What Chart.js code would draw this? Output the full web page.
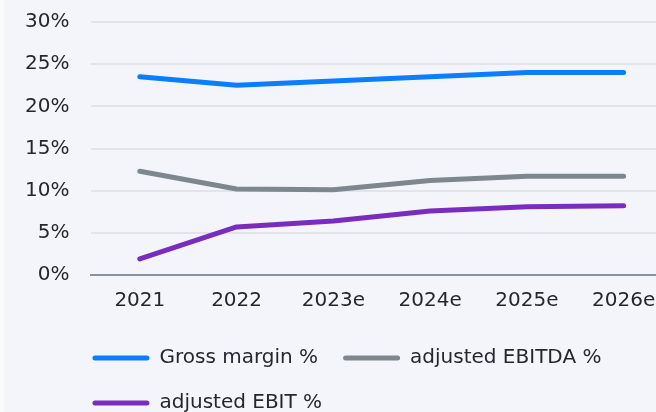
<!DOCTYPE html>
<html>
<head>
<meta charset="utf-8">
<script src="https://cdn.jsdelivr.net/npm/chart.js@4/dist/chart.umd.min.js"></script>
<style>
  html, body { margin: 0; padding: 0; background: #f4f5fa; overflow: hidden; }
  #wrap { width: 656px; height: 412px; overflow: hidden; border-left: 4px solid #fafbfd; box-sizing: border-box; }
  #chart { display: block; margin-left: -4px; }
</style>
</head>
<body>
<div id="wrap"><canvas id="chart" width="680" height="427"></canvas></div>
<script>
var years = ["2021", "2022", "2023e", "2024e", "2025e", "2026e"];
var grossMargin = [23.5, 22.5, 23.0, 23.5, 24.0, 24.0];
var adjEbitda = [12.3, 10.2, 10.1, 11.2, 11.7, 11.7];
var adjEbit = [1.9, 5.7, 6.4, 7.6, 8.1, 8.2];
var yTicks = [0, 5, 10, 15, 20, 25, 30];

var FONT = "'DejaVu Sans', sans-serif";
var TEXT = "#24282e";
var LEG_PAD = 25;

function line(label, data, color) {
  return {
    label: label,
    data: data,
    borderColor: color,
    backgroundColor: color,
    borderWidth: 5,
    borderCapStyle: "round",
    borderJoinStyle: "round",
    pointRadius: 0,
    tension: 0,
    fill: false
  };
}

// legend starts under the plot and a bit lower than chart.js would put it
var legendShift = {
  id: "legendShift",
  afterLayout: function (chart) {
    var lg = chart.legend;
    lg.left = chart.chartArea.left + 1 - LEG_PAD;
    lg.top = 356 - 8 - LEG_PAD;
  }
};

var ctx = document.getElementById("chart").getContext("2d");
new Chart(ctx, {
  type: "line",
  data: {
    labels: years,
    datasets: [
      line("Gross margin %", grossMargin, "#0a7eff"),
      line("adjusted EBITDA %", adjEbitda, "#7e878d"),
      line("adjusted EBIT %", adjEbit, "#7a2dbd")
    ]
  },
  options: {
    responsive: false,
    devicePixelRatio: 1,
    animation: false,
    layout: { padding: { left: 15, right: 8, top: 0, bottom: 0 } },
    scales: {
      x: {
        offset: true,
        grid: { display: false, drawTicks: false },
        border: { display: true, color: "#8a9399", width: 2 },
        ticks: { color: TEXT, padding: 14, font: { family: FONT, size: 20 }, maxRotation: 0 }
      },
      y: {
        min: 0,
        max: 30,
        afterBuildTicks: function (scale) {
          scale.ticks = yTicks.map(function (v) { return { value: v }; });
        },
        grid: { color: "#e2e4e9", lineWidth: 2, drawTicks: true, tickLength: 12, tickColor: "rgba(0,0,0,0)" },
        border: { display: false },
        ticks: {
          color: TEXT,
          padding: 10,
          font: { family: FONT, size: 20 },
          callback: function (v) { return v + "%"; }
        }
      }
    },
    plugins: {
      tooltip: { enabled: false },
      legend: {
        position: "bottom",
        align: "start",
        labels: {
          color: TEXT,
          font: { family: FONT, size: 20 },
          boxWidth: 57,
          boxHeight: 5,
          useBorderRadius: true,
          borderRadius: 2.5,
          padding: LEG_PAD,
          generateLabels: function (chart) {
            var items = Chart.defaults.plugins.legend.labels.generateLabels(chart);
            items.forEach(function (it) { it.lineWidth = 0; });
            return items;
          }
        }
      }
    }
  },
  plugins: [legendShift]
});
</script>
</body>
</html>
